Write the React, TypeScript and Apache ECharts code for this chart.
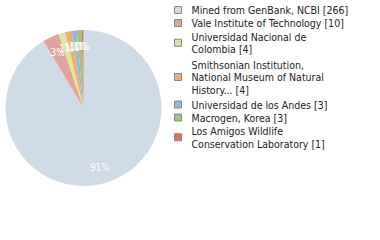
import React, { useEffect, useRef } from "react";
import * as echarts from "echarts";

const categories = [
  "Mined from GenBank, NCBI",
  "Vale Institute of Technology",
  "Universidad Nacional de Colombia",
  "Smithsonian Institution, National Museum of Natural History...",
  "Universidad de los Andes",
  "Macrogen, Korea",
  "Los Amigos Wildlife Conservation Laboratory",
];
const legendLines = [
  "Mined from GenBank, NCBI",
  "Vale Institute of Technology",
  "Universidad Nacional de\nColombia",
  "Smithsonian Institution,\nNational Museum of Natural\nHistory...",
  "Universidad de los Andes",
  "Macrogen, Korea",
  "Los Amigos Wildlife\nConservation Laboratory",
];
const counts = [266, 10, 4, 4, 3, 3, 1];
const colors = ["#cfdbe7", "#e0a49d", "#dce5a0", "#f1ac72", "#97b8dd", "#9fc57b", "#e07258"];
const legendPads = [
  [0, 0, 0, 5],
  [0, 0, 0, 5],
  [0, 0, 1, 5],
  [1, 0, 3, 5],
  [0, 0, 0, 5],
  [0, 0, 0, 5],
  [1, 0, 0, 5],
];

export default function App() {
  const ref = useRef<HTMLDivElement>(null);
  useEffect(() => {
    document.body.style.margin = "0";
    const chart = echarts.init(ref.current!, null, { renderer: "svg" });
    const data = categories.map((c, i) => ({ name: c, value: counts[i], itemStyle: { color: colors[i] } }));
    const font = "DejaVu Sans Condensed";
    chart.setOption({
      animation: false,
      legend: {
        orient: "vertical",
        left: 174,
        top: 3.75,
        padding: 0,
        itemWidth: 7,
        itemHeight: 7,
        itemGap: 0.5,
        icon: "rect",
        selectedMode: false,
        itemStyle: { borderColor: "#888", borderWidth: 1 },
        textStyle: { fontFamily: font, fontSize: 10.5, lineHeight: 12.5, color: "#222" },
        formatter: (name: string) => {
          const i = categories.indexOf(name);
          return `${legendLines[i]} [${counts[i]}]`;
        },
        data: categories.map((c, i) => ({
          name: c,
          textStyle: { fontFamily: font, fontSize: 10.5, lineHeight: 12.5, color: "#222", padding: legendPads[i] },
        })),
      },
      series: [
        {
          type: "pie",
          center: [83.5, 108],
          radius: 78,
          startAngle: 90,
          clockwise: true,
          label: { show: false },
          labelLine: { show: false },
          itemStyle: { borderWidth: 0 },
          emphasis: { disabled: true },
          data,
        },
        {
          type: "pie",
          center: [83.5, 108],
          radius: [39, 78],
          startAngle: 90,
          clockwise: true,
          silent: true,
          legendHoverLink: false,
          avoidLabelOverlap: false,
          labelLayout: { hideOverlap: false },
          itemStyle: { color: "rgba(0,0,0,0)", borderWidth: 0 },
          label: {
            show: true,
            position: "inside",
            color: "#fff",
            fontFamily: font,
            fontSize: 10,
            formatter: (p: any) => `${Math.round(p.percent)}%`,
          },
          labelLine: { show: false },
          emphasis: { disabled: true },
          data: categories.map((c, i) => ({ name: c, value: counts[i] })),
        },
      ],
    });
    return () => chart.dispose();
  }, []);
  return <div ref={ref} style={{ width: 380, height: 240 }} />;
}
